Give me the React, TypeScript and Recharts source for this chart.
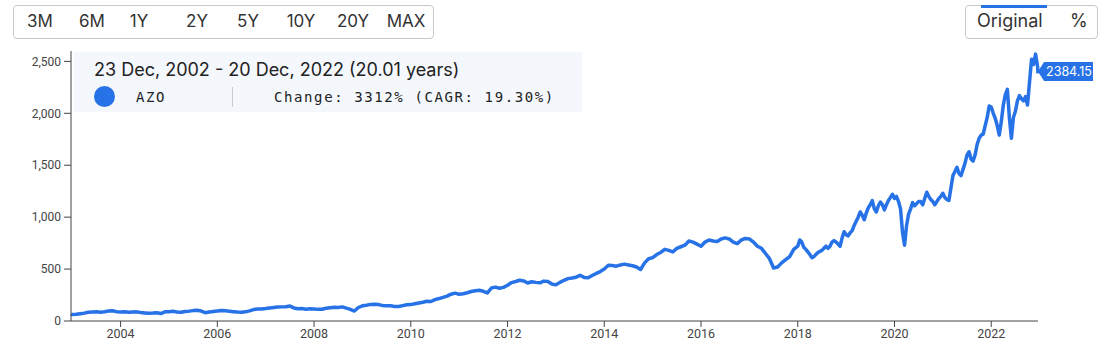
import { LineChart, Line, XAxis, YAxis, ReferenceDot } from "recharts";

// first and last trading day shown
const startDate = 2002.975;
const startPrice = 67;
const endDate = 2022.967;
const endPrice = 2384.15;

// monthly closes
const p2003 = [62, 64, 70, 76, 84, 86, 88, 85, 90, 96, 99, 90];
const p2004 = [86, 88, 84, 86, 88, 82, 78, 74, 76, 80, 72, 88];
const p2005 = [90, 93, 87, 84, 92, 95, 100, 104, 96, 80, 86, 92];
const p2006 = [96, 100, 98, 94, 90, 86, 84, 88, 98, 110, 116, 116];
const p2007 = [120, 126, 130, 134, 136, 138, 144, 126, 118, 120, 114, 118];
const p2008 = [116, 112, 114, 122, 128, 132, 130, 136, 124, 112, 96, 130];
const p2009 = [146, 152, 160, 162, 158, 150, 148, 146, 140, 140, 148, 156];
const p2010 = [158, 166, 174, 180, 190, 188, 206, 216, 228, 240, 258, 268];
const p2011 = [258, 262, 272, 284, 292, 296, 286, 270, 318, 326, 316, 324];
const p2012 = [344, 370, 380, 392, 386, 366, 378, 372, 368, 384, 380, 356];
const p2013 = [348, 372, 392, 408, 414, 422, 440, 420, 416, 438, 458, 476];
const p2014 = [500, 536, 534, 528, 540, 548, 540, 532, 520, 496, 560, 600];
const p2015 = [610, 640, 660, 690, 680, 665, 700, 715, 730, 770, 760, 740];
const p2016 = [720, 760, 780, 770, 765, 790, 800, 790, 760, 745, 780, 795];
const p2017 = [790, 760, 720, 700, 650, 600, 510, 520, 560, 590, 620, 690];

// twice-monthly closes for the more volatile recent years
const p2018 = [720, 780, 760, 710, 690, 665, 640, 610, 620, 640, 660, 670, 680, 700, 720, 700, 720, 760, 775, 760, 740, 720, 800, 860];
const p2019 = [830, 820, 850, 870, 920, 960, 1000, 1050, 1020, 975, 1040, 1090, 1120, 1160, 1080, 1050, 1110, 1145, 1120, 1070, 1120, 1160, 1190, 1220];
const p2020 = [1180, 1200, 1150, 1080, 850, 730, 920, 1030, 1080, 1140, 1110, 1130, 1150, 1150, 1120, 1180, 1240, 1200, 1170, 1150, 1120, 1150, 1180, 1200];
const p2021 = [1230, 1190, 1170, 1160, 1280, 1400, 1440, 1480, 1420, 1400, 1460, 1520, 1600, 1630, 1560, 1540, 1600, 1700, 1760, 1790, 1800, 1880, 1960, 2070];
const p2022 = [2060, 2000, 1950, 1880, 1790, 1920, 2080, 2180, 2230, 1960, 1760, 1960, 2020, 2120, 2170, 2140, 2120, 2160, 2080, 2300, 2520, 2470, 2570, 2450];

const yearTicks = [2004, 2006, 2008, 2010, 2012, 2014, 2016, 2018, 2020, 2022];
const priceTicks = [0, 500, 1000, 1500, 2000, 2500];
const ranges = ["3M", "6M", "1Y", "2Y", "5Y", "10Y", "20Y", "MAX"];
const rangeX = [40, 92, 139, 197, 248, 301, 353, 406];

const byYear: [number, number[]][] = [
  [2003, p2003], [2004, p2004], [2005, p2005], [2006, p2006], [2007, p2007],
  [2008, p2008], [2009, p2009], [2010, p2010], [2011, p2011], [2012, p2012],
  [2013, p2013], [2014, p2014], [2015, p2015], [2016, p2016], [2017, p2017],
  [2018, p2018], [2019, p2019], [2020, p2020], [2021, p2021], [2022, p2022],
];

const data: { date: number; price: number }[] = [{ date: startDate, price: startPrice }];
byYear.forEach(([year, vals]) => {
  vals.forEach((v, i) => data.push({ date: year + i / vals.length, price: v }));
});
data.push({ date: endDate, price: endPrice });

const BLUE = "#2672e6";

const EndTag = (props: any) => {
  const { cx, cy } = props;
  const y = cy - 2;
  return (
    <g>
      <polygon
        points={`${cx},${y} ${cx + 6},${y - 9.5} ${cx + 55},${y - 9.5} ${cx + 55},${y + 9.5} ${cx + 6},${y + 9.5}`}
        fill={BLUE}
      />
      <text x={cx + 31} y={y + 4.5} textAnchor="middle" fill="#fff" fontSize={12.5} fontFamily="Inter, sans-serif">
        {endPrice.toFixed(2)}
      </text>
    </g>
  );
};

const mono = "'DejaVu Sans Mono', 'Liberation Mono', monospace";

export default function App() {
  return (
    <div style={{ position: "absolute", left: 0, top: 0, width: 1107, height: 350, background: "#fff", fontFamily: "Inter, sans-serif", overflow: "hidden" }}>
      <LineChart width={1107} height={350} data={data} margin={{ top: 51, right: 69, bottom: 0, left: 0 }}>
        <XAxis
          dataKey="date"
          type="number"
          domain={[startDate, endDate]}
          ticks={yearTicks}
          height={29}
          tickSize={6}
          tickMargin={2}
          stroke="#444"
          tick={{ fill: "#444", fontSize: 12.5, fontFamily: "Roboto" }}
        />
        <YAxis
          type="number"
          domain={[0, 2600]}
          ticks={priceTicks}
          width={71}
          tickSize={7}
          tickMargin={3}
          stroke="#444"
          tick={{ fill: "#444", fontSize: 12, fontFamily: "Roboto" }}
          tickFormatter={(v: number) => v.toLocaleString("en-US")}
        />
        <Line
          dataKey="price"
          stroke={BLUE}
          strokeWidth={3.5}
          dot={false}
          isAnimationActive={false}
          strokeLinejoin="round"
        />
        <ReferenceDot x={endDate} y={endPrice} r={0} shape={EndTag} />
      </LineChart>

      {/* range buttons */}
      <div style={{ position: "absolute", left: 13, top: 5, width: 419, height: 32, border: "1px solid #c9c9c9", borderRadius: 4 }} />
      {ranges.map((r, i) => (
        <div key={r} style={{ position: "absolute", left: rangeX[i], top: 9, transform: "translateX(-50%)", fontSize: 17, color: "#333", lineHeight: "24px" }}>
          {r}
        </div>
      ))}

      {/* original / % toggle */}
      <div style={{ position: "absolute", left: 965, top: 5, width: 131, height: 32, border: "1px solid #c9c9c9", borderRadius: 4 }} />
      <div style={{ position: "absolute", left: 981, top: 5, width: 66, height: 3, background: BLUE }} />
      <div style={{ position: "absolute", left: 977, top: 9, fontSize: 18, color: "#333", lineHeight: "24px" }}>Original</div>
      <div style={{ position: "absolute", left: 1070, top: 9, fontSize: 18, color: "#333", lineHeight: "24px" }}>%</div>

      {/* info box */}
      <div style={{ position: "absolute", left: 74, top: 52, width: 508, height: 60, background: "#f4f7fc" }} />
      <div style={{ position: "absolute", left: 94, top: 58, fontSize: 18, color: "#222", lineHeight: "24px" }}>
        23 Dec, 2002 - 20 Dec, 2022 (20.01 years)
      </div>
      <div style={{ position: "absolute", left: 94, top: 86, width: 21, height: 21, borderRadius: "50%", background: BLUE }} />
      <div style={{ position: "absolute", left: 136, top: 87, fontSize: 14, letterSpacing: 1.6, fontFamily: mono, color: "#222", lineHeight: "20px" }}>AZO</div>
      <div style={{ position: "absolute", left: 232, top: 87, width: 1, height: 20, background: "#ccc" }} />
      <div style={{ position: "absolute", left: 274, top: 87, fontSize: 14, letterSpacing: 1.6, fontFamily: mono, color: "#222", lineHeight: "20px" }}>
        Change: 3312% (CAGR: 19.30%)
      </div>
    </div>
  );
}
